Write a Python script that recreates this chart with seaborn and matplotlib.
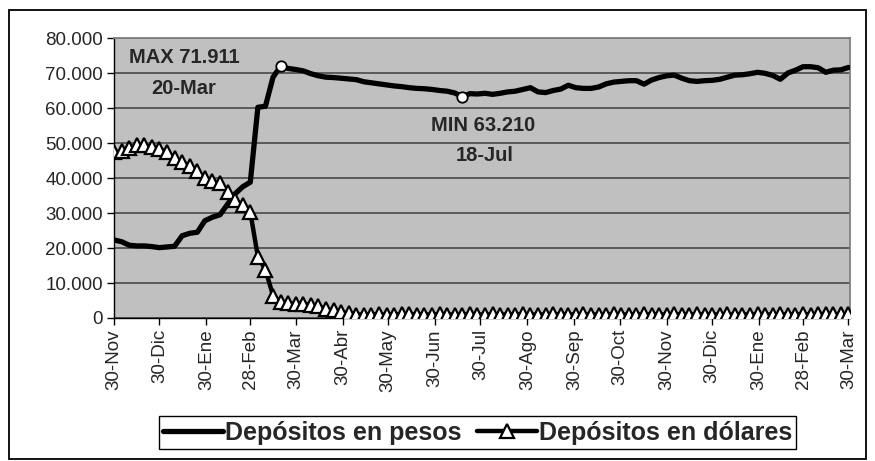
import numpy as np
import pandas as pd
import seaborn as sns
import matplotlib.pyplot as plt
from matplotlib.patches import Rectangle

# datos cada 5 dias (miles)
fechas = pd.date_range("2001-11-30", "2003-03-30", freq="5D")

pesos = [22.3, 21.8, 20.8, 20.6, 20.6, 20.4, 20.1, 20.3, 20.5, 23.5,
         24.2, 24.5, 27.8, 28.8, 29.5, 32.5, 35.5, 37.5, 38.8, 60.2,
         60.5, 68.8, 71.911, 71.3, 71.0, 70.6, 69.8, 69.2, 68.8, 68.7,
         68.5, 68.3, 68.1, 67.5, 67.2, 66.9, 66.6, 66.3, 66.1, 65.8,
         65.6, 65.5, 65.3, 65.0, 64.8, 64.3, 63.21, 64.1, 64.0, 64.2,
         63.9, 64.2, 64.6, 64.8, 65.3, 65.8, 64.6, 64.4, 65.0, 65.4,
         66.5, 65.8, 65.6, 65.6, 66.0, 66.9, 67.4, 67.6, 67.8, 67.8,
         66.8, 68.0, 68.7, 69.2, 69.4, 68.5, 67.8, 67.6, 67.8, 67.9,
         68.2, 68.8, 69.4, 69.5, 69.8, 70.2, 69.9, 69.3, 68.2, 70.0,
         70.8, 71.8, 71.8, 71.5, 70.2, 70.8, 70.9, 71.6]

dolares = [47.3, 47.8, 48.6, 49.3, 49.4, 48.8, 48.3, 47.3, 45.8, 44.5,
           43.5, 42.0, 40.0, 39.2, 38.5, 36.0, 33.8, 32.2, 30.3, 17.5,
           13.8, 6.4, 4.6, 4.2, 4.1, 4.0, 3.8, 3.4, 2.6, 2.2,
           1.7, 1.3, 1.0, 1.0, 1.0, 1.1, 1.0, 1.0, 1.1, 1.1,
           1.0, 1.0, 1.0, 1.1, 1.0, 1.0, 1.0, 1.1, 1.0, 1.0,
           1.1, 1.0, 1.0, 1.0, 1.1, 1.0, 1.0, 1.0, 1.1, 1.0,
           1.0, 1.0, 1.1, 1.0, 1.0, 1.0, 1.1, 1.0, 1.0, 1.0,
           1.1, 1.0, 1.0, 1.0, 1.1, 1.0, 1.0, 1.1, 1.0, 1.0,
           1.0, 1.1, 1.0, 1.0, 1.0, 1.1, 1.0, 1.0, 1.1, 1.0,
           1.0, 1.1, 1.0, 1.1, 1.2, 1.1, 1.1, 1.2]

tick_fechas = ["2001-11-30", "2001-12-30", "2002-01-30", "2002-02-28", "2002-03-30",
               "2002-04-30", "2002-05-30", "2002-06-30", "2002-07-30", "2002-08-30",
               "2002-09-30", "2002-10-30", "2002-11-30", "2002-12-30", "2003-01-30",
               "2003-02-28", "2003-03-30"]
tick_labels = ["30-Nov", "30-Dic", "30-Ene", "28-Feb", "30-Mar", "30-Abr", "30-May",
               "30-Jun", "30-Jul", "30-Ago", "30-Sep", "30-Oct", "30-Nov", "30-Dic",
               "30-Ene", "28-Feb", "30-Mar"]
y_ticks = [0, 10000, 20000, 30000, 40000, 50000, 60000, 70000, 80000]
y_labels = ["0", "10.000", "20.000", "30.000", "40.000", "50.000", "60.000", "70.000", "80.000"]

df = pd.DataFrame({"fecha": fechas,
                   "pesos": np.array(pesos) * 1000,
                   "dolares": np.array(dolares) * 1000})

sns.set_style("white")
plt.rcParams['font.family'] = ['Liberation Sans', 'DejaVu Sans']

fig = plt.figure(figsize=(8.75, 4.61), dpi=100)
ax = fig.add_axes([114/875, 1-318/461, (850-114)/875, (318-38)/461])
ax.set_facecolor("#c0c0c0")

sns.lineplot(data=df, x="fecha", y="pesos", color="black", lw=3.8, ax=ax,
             label="Depósitos en pesos", zorder=3)
sns.lineplot(data=df, x="fecha", y="dolares", color="black", lw=3.2, marker="^",
             markersize=10, markerfacecolor="white", markeredgecolor="black",
             markeredgewidth=1.6, ax=ax, label="Depósitos en dólares", zorder=4)

# maximo y minimo
imax = int(np.argmax(df["pesos"]))
imin = int(np.argmin(df["pesos"].iloc[30:])) + 30
ax.plot(df["fecha"].iloc[[imax, imin]], df["pesos"].iloc[[imax, imin]], "o",
        ms=7.5, mfc="white", mec="black", mew=1.3, zorder=5)

ax.text(0.095, 0.930, "MAX 71.911", transform=ax.transAxes, ha="center", va="center",
        fontsize=14.5, fontweight="bold")
ax.text(0.095, 0.821, "20-Mar", transform=ax.transAxes, ha="center", va="center",
        fontsize=14.5, fontweight="bold")
ax.text(0.502, 0.689, "MIN 63.210", transform=ax.transAxes, ha="center", va="center",
        fontsize=14.5, fontweight="bold")
ax.text(0.503, 0.582, "18-Jul", transform=ax.transAxes, ha="center", va="center",
        fontsize=14.5, fontweight="bold")

ax.set_ylim(0, 80000)
ax.set_xlim(pd.Timestamp("2001-11-30"), pd.Timestamp("2003-03-31"))
ax.set_yticks(y_ticks)
ax.set_yticklabels(y_labels, fontsize=13.5)
ax.set_xticks(pd.to_datetime(tick_fechas))
ax.set_xticklabels(tick_labels, rotation=90, fontsize=13.5)
ax.set_xlabel("")
ax.set_ylabel("")
ax.tick_params(axis="both", direction="out", length=5, width=1, color="black", pad=3,
               bottom=True, left=True)
ax.grid(axis="y", color="#5a5a5a", lw=1.4)
ax.grid(axis="x", visible=False)
for s in ["left", "bottom"]:
    ax.spines[s].set_color("black")
    ax.spines[s].set_linewidth(1)
for s in ["top", "right"]:
    ax.spines[s].set_color("#808080")
    ax.spines[s].set_linewidth(1.3)

ax.legend_.remove()
h, l = ax.get_legend_handles_labels()
leg = fig.legend(h[:2], l[:2], loc="center", bbox_to_anchor=(0.5457, 1-432.5/461), ncol=2,
                 prop={"weight": "bold", "size": 18}, frameon=True, fancybox=False,
                 edgecolor="black", framealpha=1, handlelength=2.4, handletextpad=0.08,
                 columnspacing=0.6, borderpad=0.18, borderaxespad=0)
leg.get_frame().set_linewidth(1)

fig.patches.append(Rectangle((9/875, 1-459/461), (866-9)/875, (459-10)/461,
                             transform=fig.transFigure, fill=False, ec="black", lw=1.3))

fig.savefig("out.png", dpi=100)
